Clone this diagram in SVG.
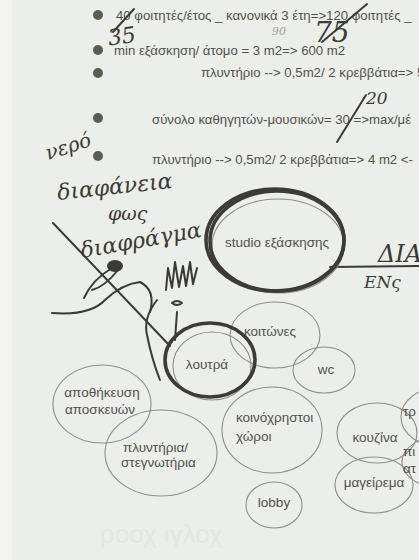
<svg xmlns="http://www.w3.org/2000/svg" width="419" height="560" viewBox="0 0 419 560">
<defs>
<style>
.bg{fill:#eceee9}
.t{font-family:"Liberation Sans",Arial,sans-serif;font-size:13.2px;fill:#4f524c}
.lbl{font-family:"Liberation Sans",Arial,sans-serif;font-size:13.5px;fill:#50524b}
.mid{text-anchor:middle}
.ell{fill:none;stroke:#8e8f89;stroke-width:1.1}
.thick{fill:none;stroke:#3c3b37;stroke-width:3.6;stroke-linecap:round}
.pen{fill:none;stroke:#3a3a36;stroke-width:2;stroke-linecap:round;stroke-linejoin:round}
.hw{font-family:"DejaVu Serif","Liberation Serif",serif;font-style:italic;fill:#3a3a36}
.dot{fill:#5a5e52}
</style>
</defs>
<rect class="bg" x="0" y="0" width="419" height="560"/>
<rect x="0" y="0" width="12" height="560" fill="#f3f4f1"/>

<g id="notes">
<circle class="dot" cx="98" cy="15" r="5"/>
<circle class="dot" cx="98" cy="50" r="5"/>
<circle class="dot" cx="98" cy="73" r="5"/>
<circle class="dot" cx="98" cy="118" r="5"/>
<circle class="dot" cx="98" cy="156" r="5"/>
<text class="t" x="116" y="20">40 φοιτητές/έτος _ κανονικά 3 έτη=&gt;120 φοιτητές _</text>
<text class="t" x="114" y="55">min εξάσκηση/ άτομο = 3 m2=&gt; 600 m2</text>
<text class="t" x="201" y="77">πλυντήριο --&gt; 0,5m2/ 2 κρεββάτια=&gt; 5</text>
<text class="t" x="152" y="124">σύνολο καθηγητών-μουσικών= 30 =&gt;max/μέ</text>
<text class="t" x="152" y="164">πλυντήριο --&gt; 0,5m2/ 2 κρεββάτια=&gt; 4 m2 &lt;-</text>
</g>

<g id="handwriting">
<path class="pen" d="M113,32 L134,9"/>
<text class="hw" x="108" y="44" font-size="22" transform="rotate(-8 120 38)">35</text>
<text class="hw" x="272" y="35" font-size="11" style="fill:#a3a39c">90</text>
<path class="pen" d="M322,42 L367,4"/>
<text class="hw" x="314" y="42" font-size="28">75</text>
<path class="pen" d="M337,142 L366,95"/>
<text class="hw" x="366" y="104" font-size="17">20</text>
<text class="hw" x="48" y="160" font-size="20" transform="rotate(-18 48 160)">νερό</text>
<text class="hw" x="58" y="200" font-size="22" transform="rotate(-6 58 200)">διαφάνεια</text>
<text class="hw" x="108" y="220" font-size="19">φως</text>
<text class="hw" x="82" y="258" font-size="22" transform="rotate(-10 82 258)">διαφράγμα</text>
<text class="hw" x="378" y="262" font-size="24">ΔΙΑ</text>
<text class="hw" x="364" y="288" font-size="17">ΕΝς</text>
</g>

<g id="connectors">
<path class="pen" d="M330,267 L419,266" stroke-width="2.2"/>
</g>

<g id="sketch">
<path class="pen" d="M53,223 L170,346" stroke-width="3"/>
<ellipse cx="115" cy="266" rx="8" ry="6" fill="#3a3a36"/>
<path class="pen" d="M112,268 C100,275 90,285 84,298"/>
<path class="pen" d="M118,270 C110,280 100,288 92,290"/>
<path class="pen" d="M52,313 Q90,316 105,300 Q122,284 140,282 Q156,290 150,312"/>
<path class="pen" d="M157,300 Q143,318 147,335 Q152,360 160,380" stroke-width="1.4" stroke="#6a6a64"/>
<path class="pen" d="M172,303 Q177,299 182,303 Q177,307 172,303 Z" stroke-width="1.6"/>
<path class="pen" d="M177,312 L175,340" stroke-width="2.4"/>
<path class="pen" d="M166,290 L168,268 L172,288 L175,262 L179,287 L183,266 L186,286 L190,262 L193,284 L197,268" stroke-width="1.6" stroke="#5c5c56"/>
</g>

<g id="studio">
<ellipse class="ell" cx="278" cy="246" rx="66" ry="47"/>
<ellipse class="thick" cx="275" cy="240" rx="69" ry="51"/>
<ellipse class="thick" cx="277" cy="241" rx="67" ry="50" stroke-width="1.6" stroke="#55544f"/>
<text class="lbl mid" x="277" y="247">studio εξάσκησης</text>
</g>

<g id="koitones">
<ellipse class="ell" cx="275" cy="335" rx="45" ry="33"/>
<text class="lbl mid" x="270" y="336">κοιτώνες</text>
</g>

<g id="wc">
<ellipse class="ell" cx="324" cy="370" rx="31" ry="23"/>
<text class="lbl mid" x="326" y="374">wc</text>
</g>

<g id="loutra">
<ellipse class="ell" cx="212" cy="366" rx="39" ry="34"/>
<ellipse class="thick" cx="210" cy="360" rx="45" ry="37"/>
<text class="lbl mid" x="207" y="369">λουτρά</text>
</g>

<g id="apothikeusi">
<ellipse class="ell" cx="102" cy="404" rx="49" ry="39"/>
<text class="lbl mid" x="102" y="397">αποθήκευση</text>
<text class="lbl mid" x="100" y="414">αποσκευών</text>
</g>

<g id="plyntiria">
<ellipse class="ell" cx="161" cy="453" rx="56" ry="43"/>
<text class="lbl" x="123" y="452">πλυντήρια/</text>
<text class="lbl" x="121" y="467">στεγνωτήρια</text>
</g>

<g id="koinoxristoi">
<ellipse class="ell" cx="272" cy="430" rx="50" ry="43"/>
<text class="lbl" x="236" y="422">κοινόχρηστοι</text>
<text class="lbl" x="236" y="441">χώροι</text>
</g>

<g id="lobby">
<ellipse class="ell" cx="274" cy="505" rx="28" ry="23"/>
<text class="lbl mid" x="274" y="507">lobby</text>
</g>

<g id="kouzina">
<ellipse class="ell" cx="377" cy="433" rx="40" ry="30"/>
<text class="lbl mid" x="375" y="442">κουζίνα</text>
</g>

<g id="mageirema">
<ellipse class="ell" cx="374" cy="485" rx="39" ry="28"/>
<text class="lbl mid" x="374" y="487">μαγείρεμα</text>
</g>

<g id="tr">
<ellipse class="ell" cx="441" cy="417" rx="40" ry="30"/>
<text class="lbl" x="403" y="416">τρ</text>
</g>

<g id="pi">
<ellipse class="ell" cx="442" cy="462" rx="40" ry="26"/>
<text class="lbl" x="403" y="456">πι</text>
<text class="lbl" x="403" y="473">ατ</text>
</g>

<text x="100" y="543" font-family="Liberation Sans,Arial,sans-serif" font-size="26" fill="#e4e6e1">ροοχ ιγλοχ</text>
</svg>
